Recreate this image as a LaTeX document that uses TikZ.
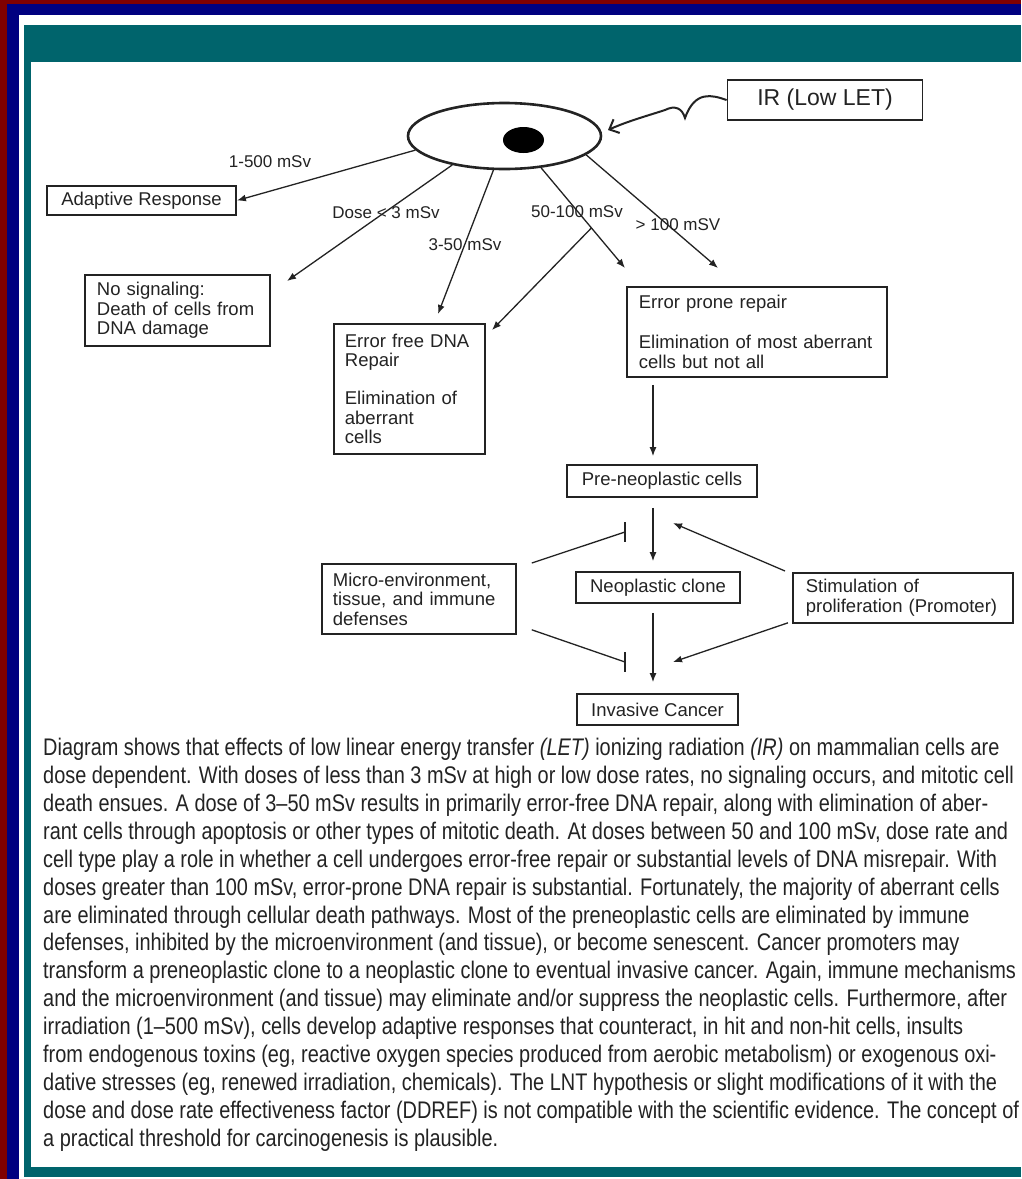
\documentclass[tikz,border=0pt]{standalone}
\usepackage{fontspec}
\setmainfont{Liberation Sans}
\newfontfamily\capfont[FakeStretch=0.83]{Liberation Sans}
\usetikzlibrary{arrows.meta,shapes.geometric,calc}
\definecolor{tealband}{RGB}{0,100,108}
\definecolor{navyband}{RGB}{0,0,128}
\definecolor{redband}{RGB}{128,0,0}
\definecolor{ink}{RGB}{35,35,35}
\tikzset{
  box/.style={draw=ink, line width=1.8pt, rectangle, inner ysep=0pt, text=ink,
              font=\fontsize{18.5}{19.5}\selectfont},
  tbox/.style={box, align=left, anchor=north west},
  lbl/.style={inner sep=0pt, text=ink, font=\fontsize{17}{19}\selectfont},
  arr/.style={draw=ink, line width=1.3pt, -{Latex[length=9pt,width=7pt]}},
  inh/.style={draw=ink, line width=1.3pt},
}
\begin{document}
\begin{tikzpicture}[x=1pt,y=-1pt]
\useasboundingbox (0,0) rectangle (1021,1179);
% frame
\fill[white] (0,0) rectangle (1021,1179);
\fill[redband] (0,0) rectangle (1021,4);
\fill[redband] (0,0) rectangle (7,1179);
\fill[navyband] (7,4) rectangle (1021,15);
\fill[navyband] (7,4) rectangle (19,1179);
\fill[tealband] (24,25) rectangle (1021,62);
\fill[tealband] (24,62) rectangle (31,1177);
\fill[tealband] (24,1167) rectangle (1021,1177);

% cell
\node[ellipse, draw=ink, line width=2.6pt, minimum width=193pt, minimum height=66pt, inner sep=0pt] (cell) at (504.5,136) {};
\node[ellipse, fill=black, minimum width=41pt, minimum height=26pt, inner sep=0pt] (nucleus) at (523.5,140) {};

% IR box
\node[box, minimum width=195pt, minimum height=40pt, font=\fontsize{23}{25}\selectfont] (ir) at (825,100) {IR (Low LET)};

% boxes
\node[box, minimum width=189pt, minimum height=29pt] (adapt) at (141.5,200.5) {Adaptive Response};
\node[tbox, minimum width=185pt, minimum height=71pt, inner xsep=12pt, text width=161pt] (nosig) at (84,274)
  {No signaling:\\Death of cells from\\DNA damage};
\node[tbox, minimum width=151pt, minimum height=130pt, inner xsep=11pt, text width=129pt] (errfree) at (333,323)
  {Error free DNA\\Repair\\[18.5pt]Elimination of\\aberrant\\cells};
\node[tbox, minimum width=260pt, minimum height=90pt, inner xsep=12pt, text width=236pt] (errprone) at (626,286)
  {Error prone repair\\[20.5pt]Elimination of most aberrant\\cells but not all};
\node[box, minimum width=190pt, minimum height=32pt] (preneo) at (662,481) {Pre-neoplastic cells};
\node[box, minimum width=164pt, minimum height=31pt] (neo) at (658,587.5) {Neoplastic clone};
\node[box, minimum width=161pt, minimum height=31pt] (inv) at (657.5,709.5) {Invasive Cancer};
\node[tbox, minimum width=194pt, minimum height=70pt, inner xsep=11pt, text width=172pt] (micro) at (321,563)
  {Micro-environment,\\tissue, and immune\\defenses};
\node[tbox, minimum width=220pt, minimum height=50pt, inner xsep=13pt, text width=194pt] (stim) at (792,572)
  {Stimulation of\\proliferation (Promoter)};

% dose labels
\node[lbl] (l1) at (270,162) {1-500 mSv};
\node[lbl] (l2) at (386,213) {Dose < 3 mSv};
\node[lbl] (l3) at (465,245) {3-50 mSv};
\node[lbl] (l4) at (577,212) {50-100 mSv};
\node[lbl] (l5) at (678,225) {> 100 mSV};

% arrow end points
\coordinate (t2) at (287,281);
\coordinate (t3) at (438,314);
\coordinate (t4) at (625,268);
\coordinate (t5) at (718,268);
\coordinate (t6) at (492,330);
\coordinate (irtip) at (608,130);
\coordinate (vx) at (653,0);
\coordinate (inh1) at (625,532);
\coordinate (inh2) at (625,662);
\coordinate (st1) at (673,523);
\coordinate (st2) at (673,662);

% IR wavy arrow
\draw[draw=ink, line width=2pt, -{Straight Barb[length=8pt,width=15pt]}]
  (ir.west) .. controls (712,95) and (695,90) .. (685,118)
  .. controls (682,108) and (675,105) .. (665,110)
  .. controls (650,115) and (628,121) .. (irtip);

% dose arrows
\draw[arr] (cell.189) -- (adapt.east);
\draw[arr] (cell.209) -- (t2);
\draw[arr] (cell.252) -- (t3);
\draw[arr] (cell.319) -- (t4);
\draw[arr] (cell.347) -- (t5);
\draw[arr] ($(cell.319)!0.6!(t4)$) -- (t6);

% vertical chain
\draw[arr, shorten <=7pt, shorten >=8pt] (errprone.south -| vx) -- (preneo.north -| vx);
\draw[arr, shorten <=10pt, shorten >=10pt] (preneo.south -| vx) -- (neo.north -| vx);
\draw[arr, shorten <=9pt, shorten >=11pt] (neo.south -| vx) -- (inv.north -| vx);

% inhibition
\draw[inh] ($(micro.north east)+(15,0)$) -- (inh1);
\draw[inh] ($(inh1)+(0,-10)$) -- ($(inh1)+(0,10)$);
\draw[inh] ($(micro.south east)+(15,-5)$) -- (inh2);
\draw[inh] ($(inh2)+(0,-10)$) -- ($(inh2)+(0,10)$);

% stimulation
\draw[arr] ($(stim.north west)+(-7,-1)$) -- (st1);
\draw[arr] ($(stim.south west)+(-4,-1)$) -- (st2);

% caption
\node[anchor=base west, align=left, inner sep=0pt, text=ink, font=\capfont\fontsize{24}{27.86}\selectfont] (caption) at (43,1146)
{Diagram shows that effects of low linear energy transfer \textit{(LET)} ionizing radiation \textit{(IR)} on mammalian cells are\\
dose dependent. With doses of less than 3 mSv at high or low dose rates, no signaling occurs, and mitotic cell\\
death ensues. A dose of 3–50 mSv results in primarily error-free DNA repair, along with elimination of aber-\\
rant cells through apoptosis or other types of mitotic death. At doses between 50 and 100 mSv, dose rate and\\
cell type play a role in whether a cell undergoes error-free repair or substantial levels of DNA misrepair. With\\
doses greater than 100 mSv, error-prone DNA repair is substantial. Fortunately, the majority of aberrant cells\\
are eliminated through cellular death pathways. Most of the preneoplastic cells are eliminated by immune\\
defenses, inhibited by the microenvironment (and tissue), or become senescent. Cancer promoters may\\
transform a preneoplastic clone to a neoplastic clone to eventual invasive cancer. Again, immune mechanisms\\
and the microenvironment (and tissue) may eliminate and/or suppress the neoplastic cells. Furthermore, after\\
irradiation (1–500 mSv), cells develop adaptive responses that counteract, in hit and non-hit cells, insults\\
from endogenous toxins (eg, reactive oxygen species produced from aerobic metabolism) or exogenous oxi-\\
dative stresses (eg, renewed irradiation, chemicals). The LNT hypothesis or slight modifications of it with the\\
dose and dose rate effectiveness factor (DDREF) is not compatible with the scientific evidence. The concept of\\
a practical threshold for carcinogenesis is plausible.};
\end{tikzpicture}
\end{document}
